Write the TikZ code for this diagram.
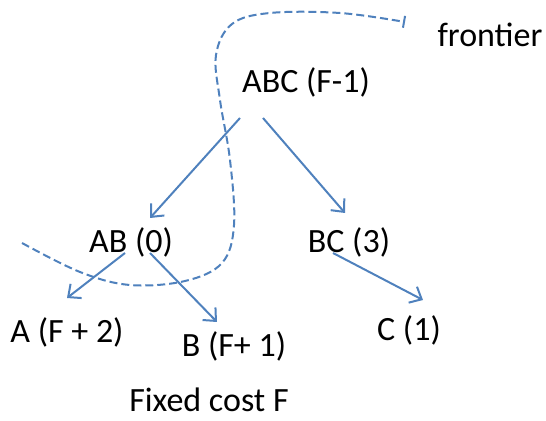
\documentclass[tikz,border=0pt]{standalone}
\usepackage{fontspec}
\setmainfont{Carlito}
\definecolor{edgeblue}{RGB}{79, 129, 189}
\usepackage{tikz}
\usetikzlibrary{arrows.meta, positioning}

\begin{document}
\begin{tikzpicture}[x=0.5pt, y=-0.5pt,
  costlabel/.style={font=\fontsize{17}{20}\selectfont, inner sep=1pt},
  treeedge/.style={draw=edgeblue, line width=1pt, -{Straight Barb[length=5pt, width=9pt]}},
  frontierline/.style={draw=edgeblue, line width=1pt, dash pattern=on 4pt off 2pt}]
  \useasboundingbox (0,0) rectangle (546,421);

  % subsets with their costs
  \node[costlabel] (abc) at (306,82) {ABC (F-1)};
  \node[costlabel] (ab) at (131,242) {AB (0)};
  \node[costlabel] (bc) at (349,242) {BC (3)};
  \node[costlabel] (a) at (67,332) {A (F + 2)};
  \node[costlabel] (b) at (234,346) {B (F+ 1)};
  \node[costlabel] (c) at (409,330) {C (1)};
  \node[costlabel] (fixed) at (209,400) {Fixed cost F};
  \node[costlabel] (frontier) at (490,35) {frontier};

  % splits
  \draw[treeedge] ([shift={(-66,36)}]abc.center) -- ([shift={(19,-24)}]ab.center);
  \draw[treeedge] ([shift={(-43,36)}]abc.center) -- ([shift={(-4,-29)}]bc.center);
  \draw[treeedge] ([shift={(-6,11)}]ab.center) -- ([shift={(0,-34)}]a.center);
  \draw[treeedge] ([shift={(19,11)}]ab.center) -- ([shift={(-17,-24)}]b.center);
  \draw[treeedge] ([shift={(-16,11)}]bc.center) -- ([shift={(14,-30)}]c.center);

  % the frontier
  \coordinate (frontierstart) at (22,243);
  \coordinate (frontierend) at ([shift={(-85,-13)}]frontier.center);
  \draw[frontierline, -{Bar[width=6pt, line width=1pt]}] plot[smooth, tension=0.6] coordinates {
    (frontierstart) (80,272) (130,285) (185,281) (222,263) (234,225) (230,160)
    (220,100) (216,55) (232,24) (270,13) (340,13) (frontierend)};
\end{tikzpicture}
\end{document}
